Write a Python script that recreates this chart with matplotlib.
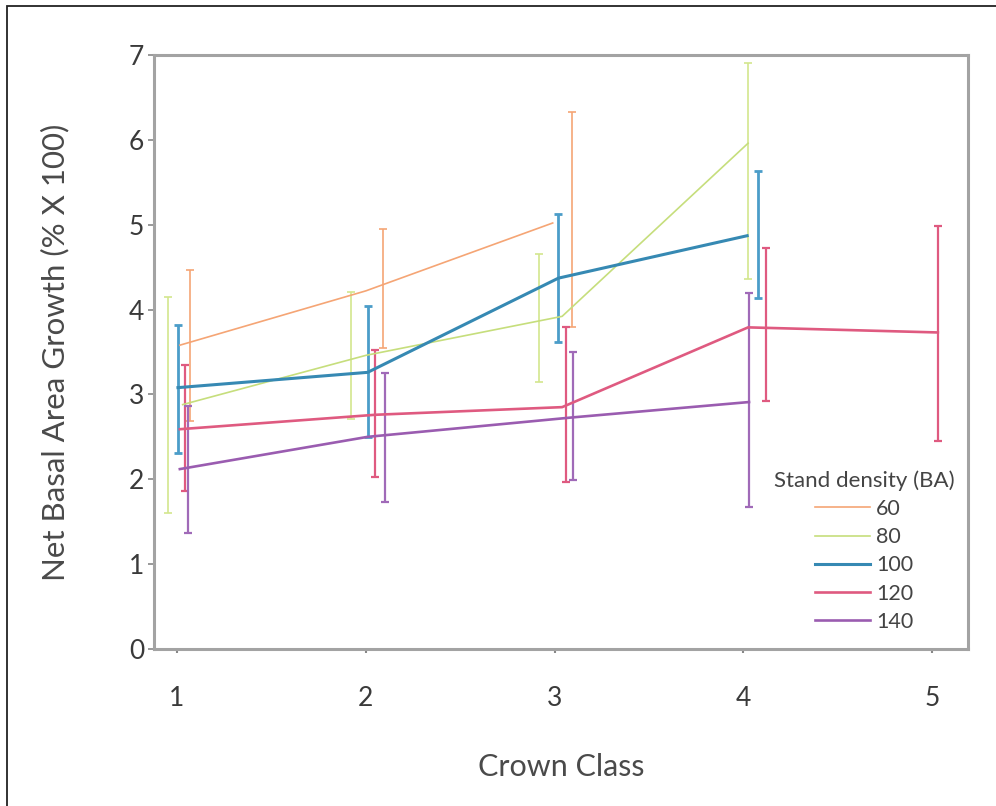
import matplotlib
matplotlib.use("Agg")
import matplotlib.pyplot as plt
import numpy as np
from matplotlib.lines import Line2D
from matplotlib.patches import Rectangle

plt.rcParams['font.family'] = ['Lato', 'DejaVu Sans']

# stand density groups and crown classes
densities = ["60", "80", "100", "120", "140"]
crown_classes = [1, 2, 3, 4, 5]

classes_60 = [1, 2, 3]
mean_60 = [3.58, 4.22, 5.02]
upper_60 = [4.47, 4.95, 6.33]
lower_60 = [2.69, 3.55, 3.79]

classes_80 = [1, 2, 3, 4]
mean_80 = [2.88, 3.46, 3.92, 5.96]
upper_80 = [4.15, 4.21, 4.65, 6.90]
lower_80 = [1.60, 2.71, 3.15, 4.36]

classes_100 = [1, 2, 3, 4]
mean_100 = [3.08, 3.26, 4.37, 4.87]
upper_100 = [3.82, 4.04, 5.13, 5.63]
lower_100 = [2.31, 2.50, 3.62, 4.14]

classes_120 = [1, 2, 3, 4, 5]
mean_120 = [2.59, 2.76, 2.85, 3.79, 3.73]
upper_120 = [3.35, 3.52, 3.79, 4.72, 4.98]
lower_120 = [1.86, 2.03, 1.97, 2.92, 2.45]

classes_140 = [1, 2, 3, 4]
mean_140 = [2.12, 2.50, 2.73, 2.91]
upper_140 = [2.86, 3.25, 3.50, 4.19]
lower_140 = [1.37, 1.73, 1.99, 1.67]

# little sideways shifts so the bars don't sit on top of each other
line_shift = {
    "60": [0.015, 0.0, -0.01],
    "80": [0.03, 0.0, 0.04, 0.025],
    "100": [0.005, 0.01, 0.02, 0.02],
    "120": [0.015, 0.05, 0.04, 0.025, 0.03],
    "140": [0.015, 0.01, 0.10, 0.03],
}
bar_shift = {
    "60": [0.07, 0.09, 0.09],
    "80": [-0.05, -0.08, -0.08, 0.025],
    "100": [0.005, 0.01, 0.02, 0.08],
    "120": [0.04, 0.05, 0.06, 0.12, 0.03],
    "140": [0.06, 0.10, 0.10, 0.03],
}

series = {
    "60": (classes_60, mean_60, upper_60, lower_60),
    "80": (classes_80, mean_80, upper_80, lower_80),
    "100": (classes_100, mean_100, upper_100, lower_100),
    "120": (classes_120, mean_120, upper_120, lower_120),
    "140": (classes_140, mean_140, upper_140, lower_140),
}

line_colors = {"60": "#f5a575", "80": "#c6de7c", "100": "#3689b3",
               "120": "#df5a80", "140": "#9a5cb0"}
bar_colors = {"60": "#f5a575", "80": "#d3e68e", "100": "#4b9dc9",
              "120": "#df5a80", "140": "#a06ab8"}
widths = {"60": 1.2, "80": 1.2, "100": 2.2, "120": 1.9, "140": 1.9}
bar_widths = {"60": 1.2, "80": 1.2, "100": 2.0, "120": 1.6, "140": 1.6}

fig = plt.figure(figsize=(9.96, 8.06), dpi=100)
ax = fig.add_axes([0.1546, 0.1948, 0.8173, 0.737])

for name in densities:
    cls, mean, up, lo = series[name]
    cls = np.array(cls, dtype=float)
    mean = np.array(mean)
    up = np.array(up)
    lo = np.array(lo)
    ax.plot(cls + np.array(line_shift[name]), mean, color=line_colors[name],
            lw=widths[name], solid_joinstyle="round", zorder=3)
    ax.errorbar(cls + np.array(bar_shift[name]), mean,
                yerr=[mean - lo, up - mean], fmt="none",
                ecolor=bar_colors[name], elinewidth=bar_widths[name],
                capsize=3, capthick=bar_widths[name], zorder=2)

ax.set_xlim(0.878, 5.19)
ax.set_ylim(0, 7)
ax.set_xticks(crown_classes)
ax.set_yticks(range(8))

for s in ax.spines.values():
    s.set_color("#a3a3a3")
    s.set_linewidth(2.2)

ax.tick_params(axis="x", direction="out", length=3, width=1.5, color="#888888",
               labelsize=19, labelcolor="#3a3a3a", pad=24)
ax.tick_params(axis="y", direction="out", length=4, width=1.2, color="#888888",
               labelsize=19, labelcolor="#3a3a3a", pad=3)

ax.set_xlabel("Crown Class", fontsize=22, color="#4a4a4a", labelpad=30)
ax.set_ylabel("Net Basal Area Growth (% X 100)", fontsize=22.5, color="#4a4a4a",
              labelpad=43)

handles = [Line2D([], [], color=line_colors[n], lw=widths[n]) for n in densities]
leg = ax.legend(handles, densities, title="Stand density (BA)", loc="center",
                bbox_to_anchor=(0.872, 0.165), frameon=False, fontsize=15.5,
                title_fontsize=16, handlelength=2.6, handletextpad=0.25,
                labelspacing=0.38, borderpad=0)
for t in leg.get_texts():
    t.set_color("#444444")
leg.get_title().set_color("#444444")

# thin frame around the whole figure
fig.patches.append(Rectangle((0.007, -0.05), 1.1, 1.0426, transform=fig.transFigure,
                             fill=False, edgecolor="#222222", lw=1.3))

fig.savefig("out.png", dpi=100)
